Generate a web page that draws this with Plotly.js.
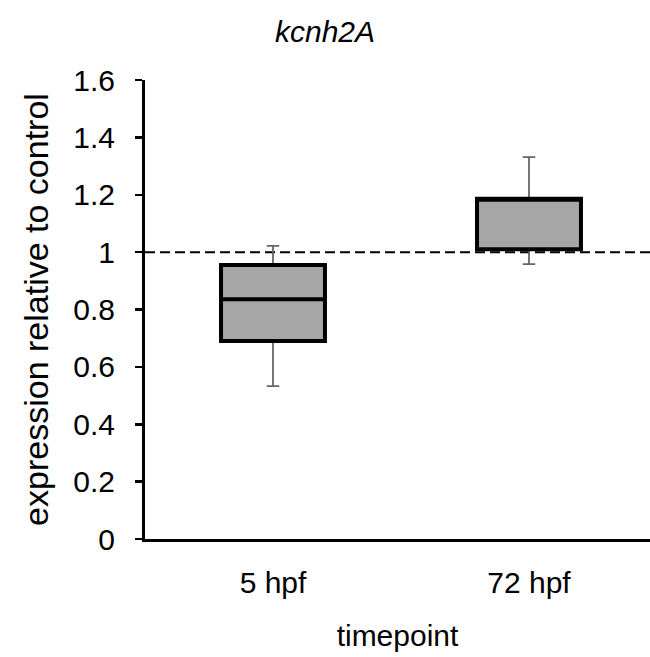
<!DOCTYPE html>
<html>
<head>
<meta charset="utf-8">
<script src="https://cdn.plot.ly/plotly-3.0.1.min.js"></script>
<style>
  html, body { margin: 0; padding: 0; background: #fff; }
  #chart { width: 650px; height: 657px; }
</style>
</head>
<body>
<div id="chart"></div>
<script>
// Data
var categories = ['5 hpf', '72 hpf'];
var lowerWhisker = [0.533, 0.958];
var q1Values = [0.690, 1.010];
var medianValues = [0.836, 1.185];
var q3Values = [0.955, 1.186];
var upperWhisker = [1.022, 1.331];
var controlLevel = 1.0;
var yTickValues = [0, 0.2, 0.4, 0.6, 0.8, 1, 1.2, 1.4, 1.6];
var yTickLabels = ['0', '0.2', '0.4', '0.6', '0.8', '1', '1.2', '1.4', '1.6'];

var FONT = 'Liberation Sans, Arial, sans-serif';

// Gray whiskers (box itself hidden under the black box drawn afterwards)
var whiskers = {
  type: 'box',
  x: categories,
  q1: q1Values,
  median: medianValues,
  q3: q3Values,
  lowerfence: lowerWhisker,
  upperfence: upperWhisker,
  boxpoints: false,
  width: 0.406,
  whiskerwidth: 0.12,
  line: { color: '#666666', width: 1.8 },
  fillcolor: 'rgba(0,0,0,0)',
  hoverinfo: 'skip',
  showlegend: false
};

// Black-outlined gray boxes
var boxes = {
  type: 'box',
  x: categories,
  q1: q1Values,
  median: medianValues,
  q3: q3Values,
  lowerfence: q1Values,
  upperfence: q3Values,
  boxpoints: false,
  width: 0.406,
  whiskerwidth: 0,
  line: { color: '#000000', width: 4 },
  fillcolor: '#a6a6a6',
  showlegend: false
};

var layout = {
  width: 650,
  height: 657,
  margin: { l: 145, r: 0, t: 80, b: 118 },
  paper_bgcolor: '#ffffff',
  plot_bgcolor: '#ffffff',
  boxmode: 'overlay',
  showlegend: false,
  font: { family: FONT, color: '#000000', size: 30 },
  title: {
    text: '<i>kcnh2A</i>',
    font: { family: FONT, size: 30, color: '#000000' },
    x: 0.5, xanchor: 'center',
    y: 1 - 31 / 657, yanchor: 'middle', yref: 'container'
  },
  xaxis: {
    type: 'category',
    range: [-0.5, 1.4727],
    showgrid: false,
    zeroline: false,
    showline: true,
    linecolor: '#000000',
    linewidth: 3,
    ticks: '',
    tickfont: { family: FONT, size: 30, color: '#000000' },
    ticklabelstandoff: 15,
    title: { text: 'timepoint', font: { family: FONT, size: 30, color: '#000000' }, standoff: 27 }
  },
  yaxis: {
    range: [0, 1.6],
    tickvals: yTickValues,
    ticktext: yTickLabels,
    showgrid: false,
    zeroline: false,
    showline: true,
    linecolor: '#000000',
    linewidth: 3,
    ticks: 'outside',
    ticklen: 7,
    tickwidth: 2.5,
    tickcolor: '#000000',
    tickfont: { family: FONT, size: 30, color: '#000000' },
    ticklabelstandoff: 14,
    title: { text: 'expression relative to control', font: { family: FONT, size: 34, color: '#000000' }, standoff: 15 }
  },
  shapes: [{
    type: 'line',
    xref: 'paper', yref: 'y',
    x0: 0, x1: 1,
    y0: controlLevel, y1: controlLevel,
    line: { color: '#000000', width: 2, dash: '10px,5px' },
    layer: 'below'
  }]
};

Plotly.newPlot('chart', [whiskers, boxes], layout, { displayModeBar: false, staticPlot: true });
</script>
</body>
</html>
